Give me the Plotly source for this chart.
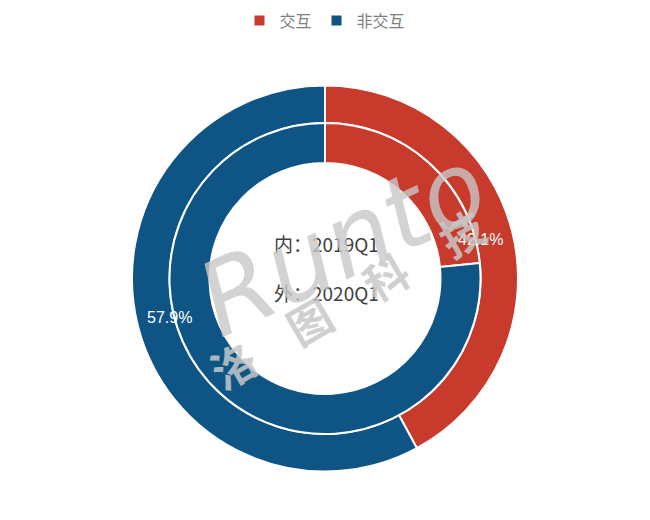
import math
import plotly.graph_objects as go

categories = ["交互", "非交互"]
outer_2020q1 = [42.1, 57.9]
inner_2019q1 = [23.4, 76.6]
colors = ["#C83A2B", "#0E5586"]
center_lines = ["内：2019Q1", "外：2020Q1"]

W, H = 650, 520
cx, cy = 325, 278.5
r_out, r_mid, r_in = 193, 155.5, 115.5

def dom(r):
    return dict(x=[(cx - r) / W, (cx + r) / W], y=[(H - cy - r) / H, (H - cy + r) / H])

fig = go.Figure()
fig.add_trace(go.Pie(
    labels=categories, values=outer_2020q1, sort=False, direction="clockwise", rotation=0,
    hole=r_mid / r_out, domain=dom(r_out),
    marker=dict(colors=colors, line=dict(color="white", width=2)),
    textinfo="none", hoverinfo="label+percent", showlegend=True, name="2020Q1",
))
fig.add_trace(go.Pie(
    labels=categories, values=inner_2019q1, sort=False, direction="clockwise", rotation=0,
    hole=r_in / r_mid, domain=dom(r_mid),
    marker=dict(colors=colors, line=dict(color="white", width=2)),
    textinfo="none", showlegend=False, name="2019Q1",
))

# percentage labels of the outer ring, placed at each slice's mid-angle
total = sum(outer_2020q1)
acc = 0.0
r_lab = 160
for v in outer_2020q1:
    mid = (acc + v / 2) / total * 2 * math.pi
    acc += v
    px = cx + r_lab * math.sin(mid)
    py = cy - r_lab * math.cos(mid)
    fig.add_annotation(x=px / W, y=(H - py) / H, xref="paper", yref="paper",
                       text=f"{v:.1f}%", showarrow=False,
                       xanchor="center", yanchor="middle",
                       font=dict(size=16, color="white", family="Liberation Sans"))

fig.add_annotation(x=272 / W, y=(H - 243) / H, xref="paper", yref="paper",
                   text=center_lines[0], showarrow=False, xanchor="left", yanchor="middle",
                   font=dict(size=19, color="#404040", family="Noto Sans CJK SC"))
fig.add_annotation(x=272 / W, y=(H - 292) / H, xref="paper", yref="paper",
                   text=center_lines[1], showarrow=False, xanchor="left", yanchor="middle",
                   font=dict(size=19, color="#404040", family="Noto Sans CJK SC"))

# watermark (drawn on top, as in the reference)
fig.add_annotation(x=342 / W, y=(H - 242) / H, xref="paper", yref="paper",
                   text="<i>Runto</i>", showarrow=False, textangle=-25,
                   xanchor="center", yanchor="middle",
                   font=dict(size=102, color="rgba(200,200,200,0.8)", family="DejaVu Sans"))
fig.add_annotation(x=347 / W, y=(H - 298) / H, xref="paper", yref="paper",
                   text="<b>洛　图　科　技</b>", showarrow=False, textangle=-30,
                   xanchor="center", yanchor="middle",
                   font=dict(size=44, color="rgba(200,200,200,0.85)", family="Noto Sans CJK SC"))

fig.update_layout(
    width=W, height=H, margin=dict(l=0, r=0, t=0, b=0),
    paper_bgcolor="white", plot_bgcolor="white",
    legend=dict(orientation="h", x=0.5, xanchor="center", y=0.993, yanchor="top",
                font=dict(size=16, color="#7F7F7F", family="Noto Sans CJK SC"),
                itemwidth=30),
)
fig.write_html("out.html", config={"displayModeBar": False},
               post_script="document.body.style.margin='0';")
